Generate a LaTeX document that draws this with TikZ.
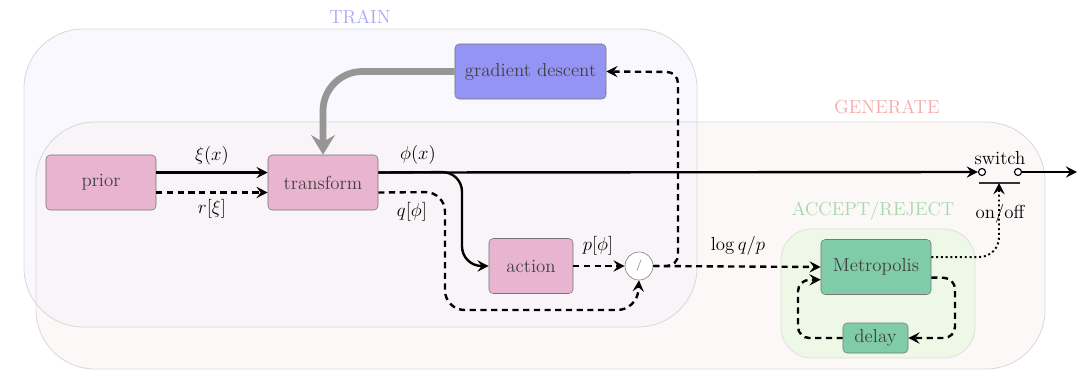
\RequirePackage{fix-cm}
\documentclass[tikz,border=0pt]{standalone}
\usetikzlibrary{arrows.meta}
\definecolor{pinkn}{RGB}{232,180,208}
\definecolor{bluen}{RGB}{148,148,244}
\definecolor{greenn}{RGB}{128,204,168}
\definecolor{nborder}{RGB}{120,120,120}
\definecolor{trainfill}{RGB}{248,248,254}
\definecolor{genfill}{RGB}{250,242,242}
\definecolor{accfill}{RGB}{237,248,230}
\definecolor{trainlbl}{RGB}{168,168,244}
\definecolor{genlbl}{RGB}{244,168,168}
\definecolor{acclbl}{RGB}{166,216,174}
\definecolor{gdarrow}{RGB}{150,150,150}
\begin{document}
\begin{tikzpicture}[x=0.025cm,y=-0.025cm,
  every node/.style={font=\fontsize{13.4}{16}\selectfont},
  blk/.style={draw=nborder, rounded corners=3pt, minimum height=1.375cm, text=black!75, inner sep=2pt},
  area/.style={draw=black!15, line width=0.6pt},
  solidarr/.style={line width=1.7pt, -{Stealth[length=8pt,width=8pt,inset=3pt]}},
  dasharr/.style={line width=1.7pt, dash pattern=on 4.4pt off 3.2pt, -{Stealth[length=8pt,width=8pt,inset=3pt]}},
  dotarr/.style={line width=1.4pt, dotted, -{Stealth[length=8pt,width=8pt,inset=3pt]}},
  lbl/.style={inner sep=1pt}
]
\useasboundingbox (0,0) rectangle (1087,370);
% areas
\fill[trainfill, rounded corners=42pt] (24,29) rectangle (697,327);
\fill[genfill, fill opacity=0.55, rounded corners=42pt] (36,122) rectangle (1045,369);
\draw[area, rounded corners=42pt] (24,29) rectangle (697,327);
\draw[area, rounded corners=42pt] (36,122) rectangle (1045,369);
\filldraw[fill=accfill, draw=black!12, line width=0.6pt, rounded corners=22pt] (781,229) rectangle (975,358);
\node[text=trainlbl] (ltrain) at (360,17) {TRAIN};
\node[text=genlbl] (lgen) at (887,107) {GENERATE};
\node[text=acclbl] (lacc) at (873,211) {ACCEPT/REJECT};
% nodes
\node[blk, fill=pinkn, minimum width=2.75cm] (pr) at (101,182.5) {prior};
\node[blk, fill=pinkn, minimum width=2.75cm] (tr) at (323,182.5) {transform};
\node[blk, fill=bluen, minimum width=3.775cm] (gd) at (530.5,71.5) {gradient descent};
\node[blk, fill=pinkn, minimum width=2.1cm] (ac) at (531,266) {action};
\node[circle, draw=nborder, fill=white, minimum size=0.7cm, inner sep=0pt, font=\fontsize{8}{9}\selectfont, text=black!60] (ci) at (639,266) {/};
\node[blk, fill=greenn, minimum width=2.75cm] (me) at (876,267) {Metropolis};
\node[blk, fill=greenn, minimum width=1.625cm, minimum height=0.75cm] (de) at (875.5,338) {delay};
% switch
\node[circle, draw, fill=white, line width=0.8pt, minimum size=5pt, inner sep=0pt] (swl) at (982,172) {};
\node[circle, draw, fill=white, line width=0.8pt, minimum size=5pt, inner sep=0pt] (swr) at (1018,172) {};
\coordinate (barl) at (979,183);
\coordinate (barr) at (1020,183);
\coordinate (barm) at (999,183);
\draw[line width=0.9pt, black!80] (barl) -- (barr);
\node[lbl] (swlbl) at (1000,158) {switch};
\coordinate (outend) at (1077,172);
\draw[solidarr] (swr.east) -- (outend);
% gradient descent feedback
\draw[gdarrow, line width=4.8pt, rounded corners=28pt, -{Stealth[length=14pt,width=17pt,inset=5pt]}] (gd.west) -| (tr.north);
% prior -> transform
\draw[solidarr] ([yshift=7.1pt]pr.east) -- ([yshift=7.1pt]tr.west) node[midway, above=3pt, lbl] (lxi) {$\xi(x)$};
\draw[dasharr] ([yshift=-7.1pt]pr.east) -- ([yshift=-7.1pt]tr.west) node[midway, below=3pt, lbl] (lr) {$r[\xi]$};
% transform -> switch
\draw[solidarr] ([yshift=7.1pt]tr.east) -- (swl.west);
\node[lbl] (lphi) at (418,155) {$\phi(x)$};
\draw[solidarr, rounded corners=14pt] ([yshift=7.1pt]tr.east) -- (462,172) -- (462,266) -- (ac.west);
% transform -> circle
\draw[dasharr, rounded corners=14pt] ([yshift=-7.1pt]tr.east) -- (445,192) -- (445,310) -- (637,310) -- (ci.south);
\node[lbl] (lq) at (412,212) {$q[\phi]$};
% action -> circle
\draw[dasharr] (ac.east) -- (ci.west);
\node[lbl] (lp) at (598,246) {$p[\phi]$};
% circle -> gradient descent
\draw[dasharr, rounded corners=8pt] (ci.east) -- (678,266) -- (678,72) -- (gd.east);
% circle -> Metropolis
\draw[dasharr] (ci.east) -- (me.west);
\node[lbl] (llog) at (738,246) {$\log q/p$};
% Metropolis <-> delay
\draw[dasharr, rounded corners=8pt] ([yshift=-7.5pt]me.east) -- (955,278) -- (955,338) -- (de.east);
\draw[dasharr, rounded corners=8pt] (de.west) -- (798,338) -- (798,280) -- ([yshift=-9pt]me.west);
% Metropolis -> switch
\node[lbl] (lon) at (1000,214) {on/off};
\draw[dotarr, rounded corners=14pt] ([yshift=7pt]me.east) -- (999,257) -- (barm);
\end{tikzpicture}
\end{document}
